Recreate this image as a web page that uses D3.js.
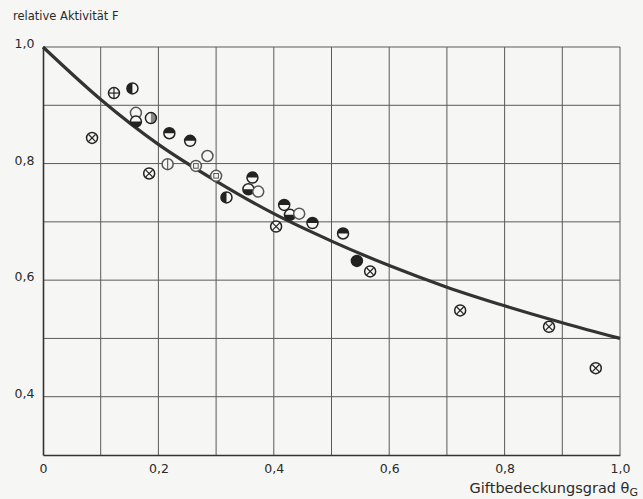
<!DOCTYPE html>
<html><head><meta charset="utf-8">
<script src="https://cdn.jsdelivr.net/npm/d3@7"></script>
<style>
html,body{margin:0;padding:0;background:#f6f6f4;}
svg{display:block;}
text{font-family:"DejaVu Sans",sans-serif;fill:#2a2a2a;}
</style></head>
<body>
<script>
// ---- data ----
const xTicks = [0, 0.2, 0.4, 0.6, 0.8, 1.0];
const xTickLabels = ["0", "0,2", "0,4", "0,6", "0,8", "1,0"];
const yTicks = [1.0, 0.8, 0.6, 0.4];
const yTickLabels = ["1,0", "0,8", "0,6", "0,4"];
const gridX = [0.1,0.2,0.3,0.4,0.5,0.6,0.7,0.8,0.9,1.0];
const gridY = [0.4,0.5,0.6,0.7,0.8,0.9,1.0];

// fitted curve
const curveTheta = [0, 0.1, 0.2, 0.3, 0.4, 0.5, 0.6, 0.7, 0.8, 0.9, 1.0];
const curveF     = [1.0, 0.91, 0.833, 0.77, 0.714, 0.667, 0.625, 0.588, 0.556, 0.527, 0.5];

// measured points
const ptTheta = [0.085,0.123,0.155,0.161,0.161,0.187,0.184,0.219,0.255,0.216,0.285,0.265,0.300,0.318,0.363,0.356,0.373,0.418,0.428,0.444,0.467,0.404,0.520,0.544,0.567,0.723,0.877,0.958];
const ptF     = [0.844,0.921,0.929,0.887,0.872,0.878,0.783,0.852,0.839,0.799,0.813,0.796,0.779,0.742,0.776,0.756,0.752,0.729,0.712,0.714,0.698,0.692,0.680,0.633,0.615,0.548,0.520,0.449];
const ptType  = ["cross","plus","left","open","bottom","rightgray","cross","top","top","vline","open","hline","hline","left","top","bottom","open","top","bottom","open","top","cross","top","filled","cross","cross","cross","cross"];

// ---- drawing ----
const W = 643, H = 499;
const m = {l:43, r:620, t:47, b:455};
const svg = d3.select("body").append("svg").attr("width",W).attr("height",H);
const x = d3.scaleLinear().domain([0,1]).range([m.l, m.r]);
const y = d3.scaleLinear().domain([0.3,1]).range([m.b, m.t]);

// grid
svg.append("g").selectAll("line").data(gridX).join("line")
  .attr("x1",d=>x(d)).attr("x2",d=>x(d)).attr("y1",m.t).attr("y2",m.b)
  .attr("stroke","#5a5a5a").attr("stroke-width",1);
svg.append("g").selectAll("line").data(gridY).join("line")
  .attr("x1",m.l).attr("x2",m.r).attr("y1",d=>y(d)).attr("y2",d=>y(d))
  .attr("stroke","#5a5a5a").attr("stroke-width",1);

// axes
const xAxis = d3.axisBottom(x).tickValues(xTicks).tickSize(0).tickFormat((d,i)=>xTickLabels[i]);
const gx = svg.append("g").attr("transform",`translate(0,${m.b})`).call(xAxis);
gx.select(".domain").attr("stroke","#333").attr("stroke-width",1.6);
gx.selectAll("text").attr("dy","1.2em").style("font-size","12.5px").style("font-family","DejaVu Sans").attr("fill","#2a2a2a");

const yAxis = d3.axisLeft(y).tickValues(yTicks).tickSize(0).tickFormat((d,i)=>yTickLabels[i]);
const gy = svg.append("g").attr("transform",`translate(${m.l},0)`).call(yAxis);
gy.select(".domain").attr("stroke","#333").attr("stroke-width",1.6);
gy.selectAll("text").attr("dx","-0.45em").attr("dy","0.05em").style("font-size","12.5px").style("font-family","DejaVu Sans").attr("fill","#2a2a2a");

// curve
const line = d3.line().x(d=>x(d[0])).y(d=>y(d[1])).curve(d3.curveMonotoneX);
svg.append("path").datum(curveTheta.map((t,i)=>[t,curveF[i]]))
  .attr("d",line).attr("fill","none").attr("stroke","#333").attr("stroke-width",3.2);

// markers
const R = 5.5, ink = "#222";
const pts = ptTheta.map((t,i)=>({t, f:ptF[i], type:ptType[i]}));
const gp = svg.append("g");
pts.forEach(p=>{
  const g = gp.append("g").attr("transform",`translate(${x(p.t)},${y(p.f)})`);
  const arc = d3.arc().innerRadius(0).outerRadius(R);
  g.append("circle").attr("r",R).attr("fill", p.type==="filled"?ink:"#f6f6f4");
  if (p.type==="top") g.append("path").attr("d",arc({startAngle:-Math.PI/2,endAngle:Math.PI/2})).attr("fill",ink);
  if (p.type==="bottom") g.append("path").attr("d",arc({startAngle:Math.PI/2,endAngle:3*Math.PI/2})).attr("fill",ink);
  if (p.type==="left") g.append("path").attr("d",arc({startAngle:Math.PI,endAngle:2*Math.PI})).attr("fill",ink);
  if (p.type==="rightgray") g.append("path").attr("d",arc({startAngle:0,endAngle:Math.PI})).attr("fill","#888");
  const s = R*0.62;
  if (p.type==="plus"){
    g.append("line").attr("x1",-R).attr("x2",R).attr("stroke",ink).attr("stroke-width",1.2);
    g.append("line").attr("y1",-R).attr("y2",R).attr("stroke",ink).attr("stroke-width",1.2);
  }
  if (p.type==="cross"){
    g.append("line").attr("x1",-s).attr("y1",-s).attr("x2",s).attr("y2",s).attr("stroke",ink).attr("stroke-width",1.2);
    g.append("line").attr("x1",-s).attr("y1",s).attr("x2",s).attr("y2",-s).attr("stroke",ink).attr("stroke-width",1.2);
  }
  if (p.type==="vline") g.append("line").attr("y1",-R).attr("y2",R).attr("stroke","#666").attr("stroke-width",1.2);
  if (p.type==="hline") g.append("rect").attr("x",-2.3).attr("y",-2.3).attr("width",4.6).attr("height",4.6).attr("fill","none").attr("stroke","#555").attr("stroke-width",1);
  g.append("circle").attr("r",R).attr("fill","none").attr("stroke", (p.type==="vline"||p.type==="hline"||p.type==="open")?"#555":ink).attr("stroke-width",1.5);
});

// titles
svg.append("text").attr("x",13).attr("y",20).style("font-size","11.5px").text("relative Aktivität F");
const xt = svg.append("text").attr("x",638).attr("y",493).attr("text-anchor","end").style("font-size","14.5px");
xt.append("tspan").text("Giftbedeckungsgrad θ");
xt.append("tspan").attr("dy","3").style("font-size","11px").text("G");
</script>
</body></html>
